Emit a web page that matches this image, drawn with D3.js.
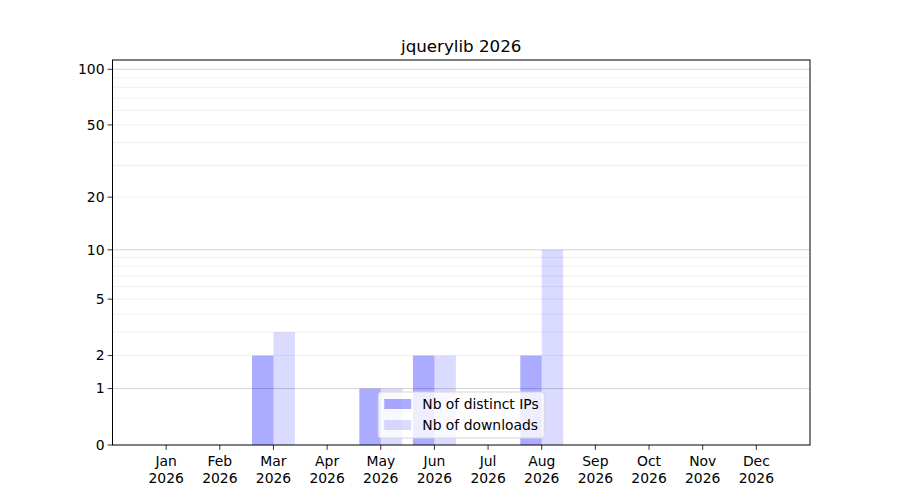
<!DOCTYPE html>
<html>
<head>
<meta charset="utf-8">
<script src="https://cdn.jsdelivr.net/npm/d3@7"></script>
<style>
  body { margin: 0; background: #fff; }
  svg text { font-family: "DejaVu Sans", sans-serif; fill: #000; }
</style>
</head>
<body>
<svg id="chart" width="900" height="500"></svg>
<script>
// data
var months = ["Jan", "Feb", "Mar", "Apr", "May", "Jun", "Jul", "Aug", "Sep", "Oct", "Nov", "Dec"];
var year = "2026";
var distinctIPs = [0, 0, 2, 0, 1, 2, 0, 2, 0, 0, 0, 0];
var downloads = [0, 0, 3, 0, 1, 2, 0, 10, 0, 0, 0, 0];
var yTicks = [0, 1, 2, 5, 10, 20, 50, 100];
var majorGrid = [1, 10, 100];
var minorGrid = [2, 3, 4, 5, 6, 7, 8, 9, 20, 30, 40, 50, 60, 70, 80, 90];
var seriesNames = ["Nb of distinct IPs", "Nb of downloads"];
var title = "jquerylib 2026";

var svg = d3.select("#chart"),
    margin = {left: 112.5, right: 90, top: 60, bottom: 55},
    width = 900 - margin.left - margin.right,
    height = 500 - margin.top - margin.bottom,
    barW = 0.4;

var g = svg.append("g").attr("transform", "translate(" + margin.left + "," + margin.top + ")");

// x in month index units, -1 .. 12
var x = d3.scaleLinear().domain([-1, 12]).range([0, width]);
// y is log10(1 + v)
var f = function (v) { return Math.log10(1 + v); };
var yl = d3.scaleLinear().domain([0, 2.054]).range([height, 0]);
var y = function (v) { return yl(f(v)); };

// grid
g.selectAll(".minor").data(minorGrid).enter().append("line")
    .attr("x1", 0).attr("x2", width)
    .attr("y1", y).attr("y2", y)
    .style("stroke", "#ebebeb").style("stroke-width", 0.8);
g.selectAll(".major").data(majorGrid).enter().append("line")
    .attr("x1", 0).attr("x2", width)
    .attr("y1", y).attr("y2", y)
    .style("stroke", "#c8c8c8").style("stroke-width", 0.8);

// bars
function drawBars(values, offset, opacity) {
    g.append("g").selectAll("rect").data(values).enter().append("rect")
        .attr("x", function (d, i) { return x(i + offset); })
        .attr("width", x(barW) - x(0))
        .attr("y", function (d) { return y(d); })
        .attr("height", function (d) { return height - y(d); })
        .style("fill", "#0000ff")
        .style("fill-opacity", opacity);
}
drawBars(distinctIPs, -barW, 0.33);
drawBars(downloads, 0, 0.14);

// axes frame
g.append("rect").attr("width", width).attr("height", height)
    .style("fill", "none").style("stroke", "#000").style("stroke-width", 1);

// y ticks
var yt = g.append("g").selectAll("g").data(yTicks).enter().append("g")
    .attr("transform", function (d) { return "translate(0," + y(d) + ")"; });
yt.append("line").attr("x1", -4.9).attr("x2", 0).style("stroke", "#000").style("stroke-width", 0.8);
yt.append("text").attr("x", -8).attr("dy", "0.35em")
    .attr("text-anchor", "end").style("font-size", "13.9px")
    .text(function (d) { return d; });

// x ticks
var xt = g.append("g").selectAll("g").data(months).enter().append("g")
    .attr("transform", function (d, i) { return "translate(" + x(i) + "," + height + ")"; });
xt.append("line").attr("y1", 0).attr("y2", 4.9).style("stroke", "#000").style("stroke-width", 0.8);
xt.append("text").attr("y", 21).attr("text-anchor", "middle").style("font-size", "13.9px")
    .text(function (d) { return d; });
xt.append("text").attr("y", 38).attr("text-anchor", "middle").style("font-size", "13.9px")
    .text(year);

// title
g.append("text").attr("x", width / 2).attr("y", -8)
    .attr("text-anchor", "middle").style("font-size", "16.7px").text(title);

// legend, lower center
var lw = 166, lh = 46;
var lg = g.append("g").attr("transform", "translate(" + (width / 2 - lw / 2) + "," + (height - 7 - lh) + ")");
lg.append("rect").attr("width", lw).attr("height", lh).attr("rx", 3)
    .style("fill", "#fff").style("fill-opacity", 0.8)
    .style("stroke", "#d6d6d6").style("stroke-width", 1);
var entries = lg.selectAll(".entry").data(seriesNames).enter().append("g")
    .attr("transform", function (d, i) { return "translate(0," + (7 + i * 21) + ")"; });
entries.append("rect").attr("x", 6).attr("width", 27).attr("height", 10)
    .style("fill", "#0000ff")
    .style("fill-opacity", function (d, i) { return i === 0 ? 0.33 : 0.14; });
entries.append("text").attr("x", 44).attr("y", 5).attr("dy", "0.35em")
    .style("font-size", "13.9px").text(function (d) { return d; });
</script>
</body>
</html>
